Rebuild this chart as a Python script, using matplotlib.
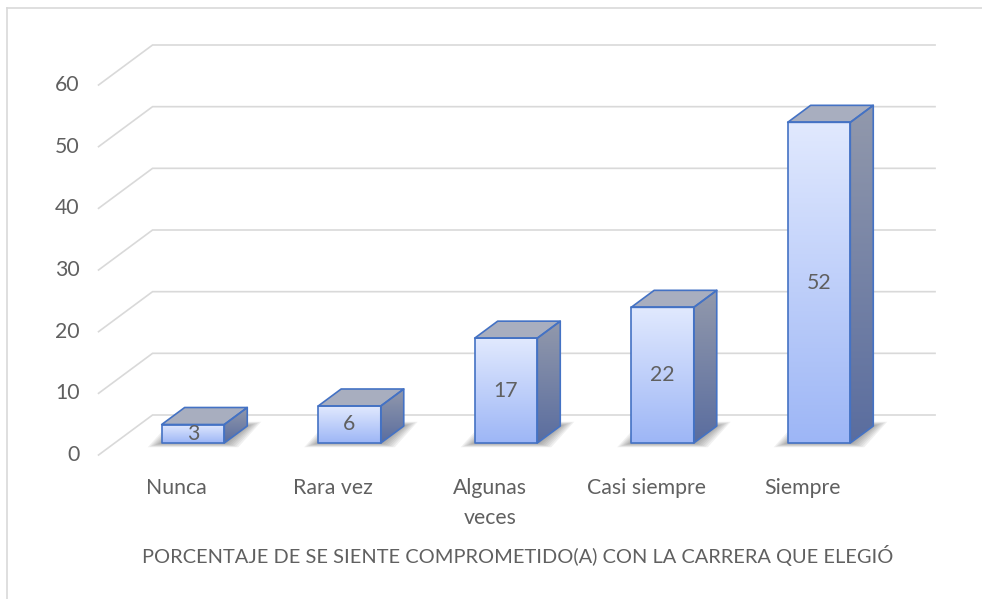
import numpy as np
import matplotlib
matplotlib.use("Agg")
import matplotlib.pyplot as plt
from matplotlib.patches import Polygon, Rectangle
from matplotlib.colors import LinearSegmentedColormap
from matplotlib.lines import Line2D
from matplotlib.transforms import offset_copy

categories = ["Nunca", "Rara vez", "Algunas\nveces", "Casi siempre", "Siempre"]
values = [3, 6, 17, 22, 52]
y_ticks = [0, 10, 20, 30, 40, 50, 60]
axis_title = "PORCENTAJE DE SE SIENTE COMPROMETIDO(A) CON LA CARRERA QUE ELEGIÓ"

plt.rcParams['font.family'] = ['Lato', 'DejaVu Sans']
TEXT = '#606060'
GRID = '#d9d9d9'
EDGE = '#4472c4'
FS = 15.3

W, H = 982, 599
fig = plt.figure(figsize=(W / 100, H / 100), dpi=100)
ax_l, ax_r = 114.75, 897.25
ax_b, ax_h = 156.0, 370.0
ax = fig.add_axes([ax_l / W, ax_b / H, (ax_r - ax_l) / W, ax_h / H])
n = len(categories)
ymax = y_ticks[-1]

px_x = (ax_r - ax_l) / n
px_y = ax_h / ymax
DX = 54 / px_x
DY = 40 / px_y
D_FRONT, D_BACK, D_BAR = -0.3, 0.7, 0.425
BW = 0.4


def P(x, v, d):
    return (x + d * DX, v + d * DY)


# gridlines (front diagonal + back wall)
for t in y_ticks:
    pts = [P(-0.5, t, D_FRONT), P(-0.5, t, D_BACK), P(n - 0.5, t, D_BACK)]
    ax.add_line(Line2D([p[0] for p in pts], [p[1] for p in pts], color=GRID,
                       lw=1.2, zorder=1, clip_on=False, solid_joinstyle='miter'))
    lx, ly = P(-0.5, t, D_FRONT)
    ax.text(lx, ly, str(t), transform=offset_copy(ax.transData, fig, x=-19, y=0, units='dots'),
            ha='right', va='center', fontsize=FS, color=TEXT)

front_cmap = LinearSegmentedColormap.from_list('f', ['#e1e9fe', '#9db6f6'])
side_cmap = LinearSegmentedColormap.from_list('s', ['#9299ac', '#5a6d9f'])
grad = np.linspace(0, 1, 256).reshape(-1, 1)

for i, v in enumerate(values):
    xl, xr = i - BW / 2, i + BW / 2
    # soft shadow on the floor
    for k, e in enumerate(np.linspace(14, 2, 7)):
        ex, ey = e / px_x, e * 0.3 / px_y
        foot = [P(xl - ex, -ey, 0), P(xr + ex, -ey, 0), P(xr + ex, ey, D_BAR), P(xl - ex, ey, D_BAR)]
        ax.add_patch(Polygon(foot, closed=True, facecolor='#303030', alpha=0.07,
                             edgecolor='none', zorder=2, clip_on=False))
    # front face
    rect = Rectangle((xl, 0), BW, v, facecolor='none', edgecolor='none', zorder=3)
    ax.add_patch(rect)
    im = ax.imshow(grad, cmap=front_cmap, extent=[xl, xr, 0, v], aspect='auto',
                   origin='upper', zorder=3, interpolation='bilinear')
    im.set_clip_path(rect)
    # side face
    side = [P(xr, 0, 0), P(xr, v, 0), P(xr, v, D_BAR), P(xr, 0, D_BAR)]
    sp = Polygon(side, closed=True, facecolor='none', edgecolor='none', zorder=3)
    ax.add_patch(sp)
    im2 = ax.imshow(grad, cmap=side_cmap, extent=[xr, xr + D_BAR * DX, 0, v + D_BAR * DY],
                    aspect='auto', origin='upper', zorder=3, interpolation='bilinear')
    im2.set_clip_path(sp)
    # top face
    top = [P(xl, v, 0), P(xr, v, 0), P(xr, v, D_BAR), P(xl, v, D_BAR)]
    ax.add_patch(Polygon(top, closed=True, facecolor='#a8aebf', edgecolor='none', zorder=3))
    # edges
    for poly in ([(xl, 0), (xr, 0), (xr, v), (xl, v)], side, top):
        ax.add_patch(Polygon(poly, closed=True, facecolor='none', edgecolor=EDGE,
                             lw=1.2, joinstyle='round', zorder=4, clip_on=False))
    # value label
    ax.text(i, v / 2, str(v), ha='center', va='center', fontsize=FS, color=TEXT, zorder=5)
    # category label
    cx, cy = P(i, 0, D_FRONT)
    ax.text(cx, cy, categories[i], transform=offset_copy(ax.transData, fig, x=0, y=-23, units='dots'),
            ha='center', va='top', fontsize=FS, color=TEXT, linespacing=1.62)

ax.set_xlim(-0.5, n - 0.5)
ax.set_ylim(0, ymax)
ax.axis('off')

fig.text(518 / W, 1 - 555 / H, axis_title, ha='center', va='center', fontsize=14.4, color=TEXT)

# chart border (cut off at right and bottom)
fig.add_artist(Line2D([7 / W, 1.0], [1 - 8 / H, 1 - 8 / H], transform=fig.transFigure, color=GRID, lw=1.2))
fig.add_artist(Line2D([7 / W, 7 / W], [0.0, 1 - 8 / H], transform=fig.transFigure, color=GRID, lw=1.2))

fig.savefig('out.png', dpi=100, facecolor='white')
